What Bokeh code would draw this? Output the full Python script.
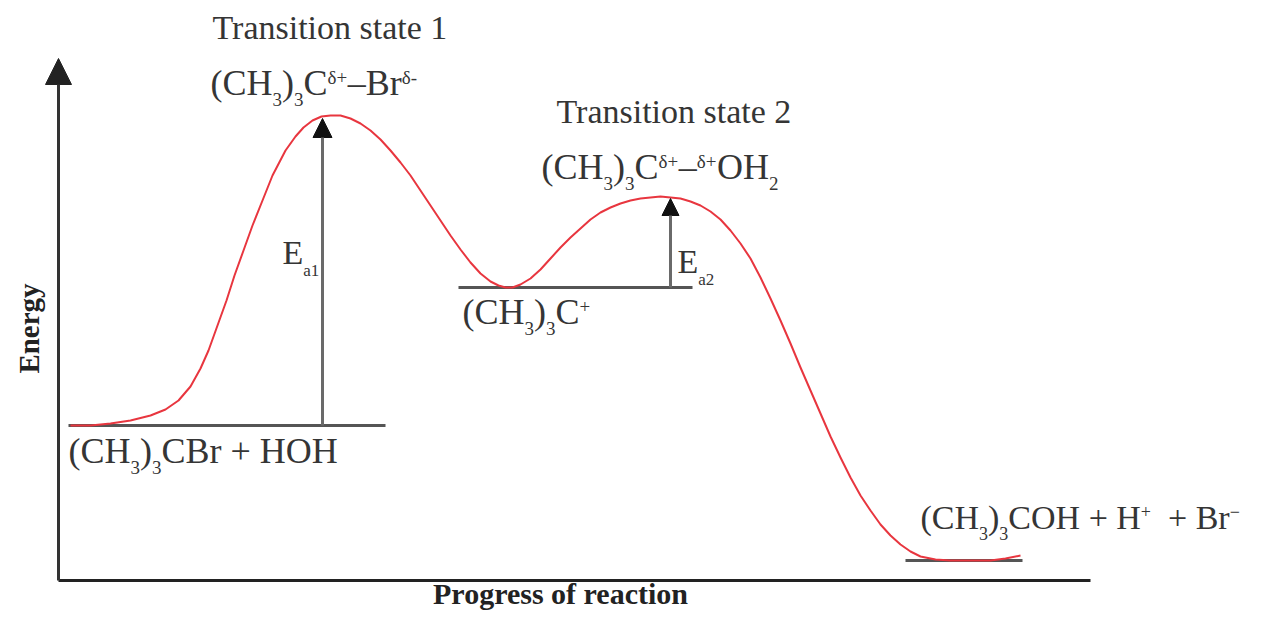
import math
from bokeh.plotting import figure
from bokeh.models import Range1d, Arrow, NormalHead
from bokeh.core.properties import value
from bokeh.embed import file_html
from bokeh.resources import INLINE

# ---------------- data (progress units / energy units) ----------------
curve_progress = [12, 32, 52, 72, 92, 107, 120, 132, 142, 150, 159, 168, 176, 185, 194,
                  204, 214, 227, 237, 245, 254, 263, 272, 282, 292, 302, 312, 322, 332,
                  342, 352, 362, 372, 382, 392, 402, 412, 422, 432, 440, 447, 454, 462,
                  472, 482, 492, 502, 512, 522, 532, 542, 552, 562, 572, 582, 592, 602,
                  612, 622, 632, 642, 652, 662, 672, 682, 692, 702, 712, 722, 732, 742,
                  752, 762, 772, 782, 792, 802, 812, 822, 832, 842, 852, 862, 877, 892,
                  912, 932, 947, 962]
curve_energy = [155, 155, 157, 160, 165, 171, 180, 194, 212, 230, 255, 280, 305, 330, 355,
                380, 405, 430, 444, 453, 460, 464, 465, 465, 462, 457, 450, 441, 430,
                418, 405, 390, 375, 360, 345, 331, 318, 307, 299, 295, 293, 293, 296,
                302, 311, 322, 333, 343, 352, 361, 368, 373, 377, 380, 382, 383, 384,
                383, 382, 379, 375, 369, 361, 350, 337, 322, 303, 282, 260, 237, 213,
                190, 167, 144, 123, 103, 85, 70, 56, 45, 36, 29, 24, 21, 20,
                20, 20, 22, 25]

level_names = ["(CH3)3CBr + HOH", "(CH3)3C+", "(CH3)3COH + H+ + Br-"]
level_start = [10, 400, 847]
level_end = [327, 634, 964]
level_energy = [155, 293, 20]

ts_names = ["Transition state 1", "Transition state 2"]
ts_progress = [264, 612]
ts_energy = [462, 382]
ea_labels = [("E", "a1"), ("E", "a2")]

axis_x_max = 1032
axis_y_max = 522

x_label = "Progress of reaction"
y_label = "Energy"

# ---------------- styling ----------------
FONT = "Liberation Serif"
TXT = "#353535"
TITLE = 34
MAIN = 36
SMALL = 19
COMP = 0.33   # renderer places the alphabetic baseline this fraction of the size lower

NB = "\u00a0"
W = {"(": .333, ")": .333, "C": .667, "H": .722, "B": .667, "r": .333, "O": .722,
     "+": .564, "–": .5, " ": .25, NB: .25, "δ": .5, "-": .333, "−": .564, "3": .5,
     "2": .5, "1": .5, "E": .611, "a": .444}


def layout(segments, x0, base, size, small, sub_drop, sup_rise):
    out = {"n": ([], [], []), "b": ([], [], []), "p": ([], [], [])}
    x = x0
    for t, k in segments:
        fs = size if k == "n" else small
        if k == "n":
            y = base
        elif k == "b":
            y = base - sub_drop
        else:
            y = base + sup_rise
        out[k][0].append(x)
        out[k][1].append(y + COMP * fs)
        out[k][2].append(t)
        x += sum(W.get(c, .5) for c in t) * fs
    return out


p = figure(width=1246, height=614, output_backend="svg", toolbar_location=None,
           x_range=Range1d(-58, 1188), y_range=Range1d(-34, 580), min_border=0)
p.axis.visible = False
p.grid.visible = False
p.outline_line_color = None
p.background_fill_color = "white"

# levels
p.segment(x0=level_start, y0=level_energy, x1=level_end, y1=level_energy,
          line_color="#555555", line_width=3)

# axes
p.add_layout(Arrow(end=NormalHead(size=26, fill_color="#222222", line_color="#222222"),
                   x_start=0, y_start=0, x_end=0, y_end=axis_y_max,
                   line_color="#333333", line_width=3))
p.segment(x0=[0], y0=[0], x1=[axis_x_max], y1=[0], line_color="#222222", line_width=3)

# activation energy arrows
for i in range(2):
    p.add_layout(Arrow(end=NormalHead(size=19 if i == 0 else 17, fill_color="#111111",
                                      line_color="#111111"),
                       x_start=ts_progress[i], y_start=level_energy[i],
                       x_end=ts_progress[i], y_end=ts_energy[i],
                       line_color="#6a6a6a", line_width=3))

# curve
p.line(curve_progress, curve_energy, line_color="#e8363f", line_width=2,
       line_join="round")

# ---------------- texts ----------------
# (segments, left, baseline energy, main size, small size, sub drop, sup rise)
labels = [
    ([("(CH", "n"), ("3", "b"), (")", "n"), ("3", "b"), ("CBr + HOH", "n")],
     10, 118, MAIN, SMALL, 11, 11),
    ([("(CH", "n"), ("3", "b"), (")", "n"), ("3", "b"), ("C", "n"), ("+", "p")],
     404, 257, MAIN, SMALL, 11, 11),
    ([("(CH", "n"), ("3", "b"), (")", "n"), ("3", "b"), ("COH + H", "n"), ("+", "p"),
      (NB + NB + "+ Br", "n"), ("−", "p")],
     862, 52, 34, 18, 11, 11),
    ([("(CH", "n"), ("3", "b"), (")", "n"), ("3", "b"), ("C", "n"), ("δ+", "p"),
      ("–Br", "n"), ("δ-", "p")],
     152, 486, MAIN, SMALL, 11, 11),
    ([("(CH", "n"), ("3", "b"), (")", "n"), ("3", "b"), ("C", "n"), ("δ+", "p"),
      ("–", "n"), ("δ+", "p"), ("OH", "n"), ("2", "b")],
     483, 402, MAIN, SMALL, 11, 11),
    ([(ea_labels[0][0], "n"), (ea_labels[0][1], "b")], 224, 317, TITLE, 17, 13, 0),
    ([(ea_labels[1][0], "n"), (ea_labels[1][1], "b")], 619, 308, TITLE, 17, 13, 0),
]

groups = {}
for segs, x0, b, size, small, drop, rise in labels:
    o = layout(segs, x0, b, size, small, drop, rise)
    for k in "nbp":
        fs = size if k == "n" else small
        g = groups.setdefault(fs, ([], [], []))
        g[0].extend(o[k][0]); g[1].extend(o[k][1]); g[2].extend(o[k][2])

# titles
g = groups.setdefault(TITLE, ([], [], []))
g[0].extend([154, 498])
g[1].extend([542 + COMP * TITLE, 458 + COMP * TITLE])
g[2].extend(ts_names)

for fs, (gx, gy, gt) in groups.items():
    if gt:
        p.text(x=gx, y=gy, text=gt, text_font=value(FONT), text_font_size=f"{fs}px",
               text_color=TXT, text_align="left", text_baseline="alphabetic")

# axis titles
p.text(x=[-30], y=[252], text=[y_label], text_font=value(FONT), text_font_size="29px",
       text_font_style="bold", text_color="#222222", angle=math.pi / 2,
       text_align="center", text_baseline="middle")
p.text(x=[502], y=[-23 + COMP * 30], text=[x_label], text_font=value(FONT),
       text_font_size="30px", text_font_style="bold", text_color="#222222",
       text_align="center", text_baseline="alphabetic")

open("out.html", "w").write(file_html(p, INLINE))
